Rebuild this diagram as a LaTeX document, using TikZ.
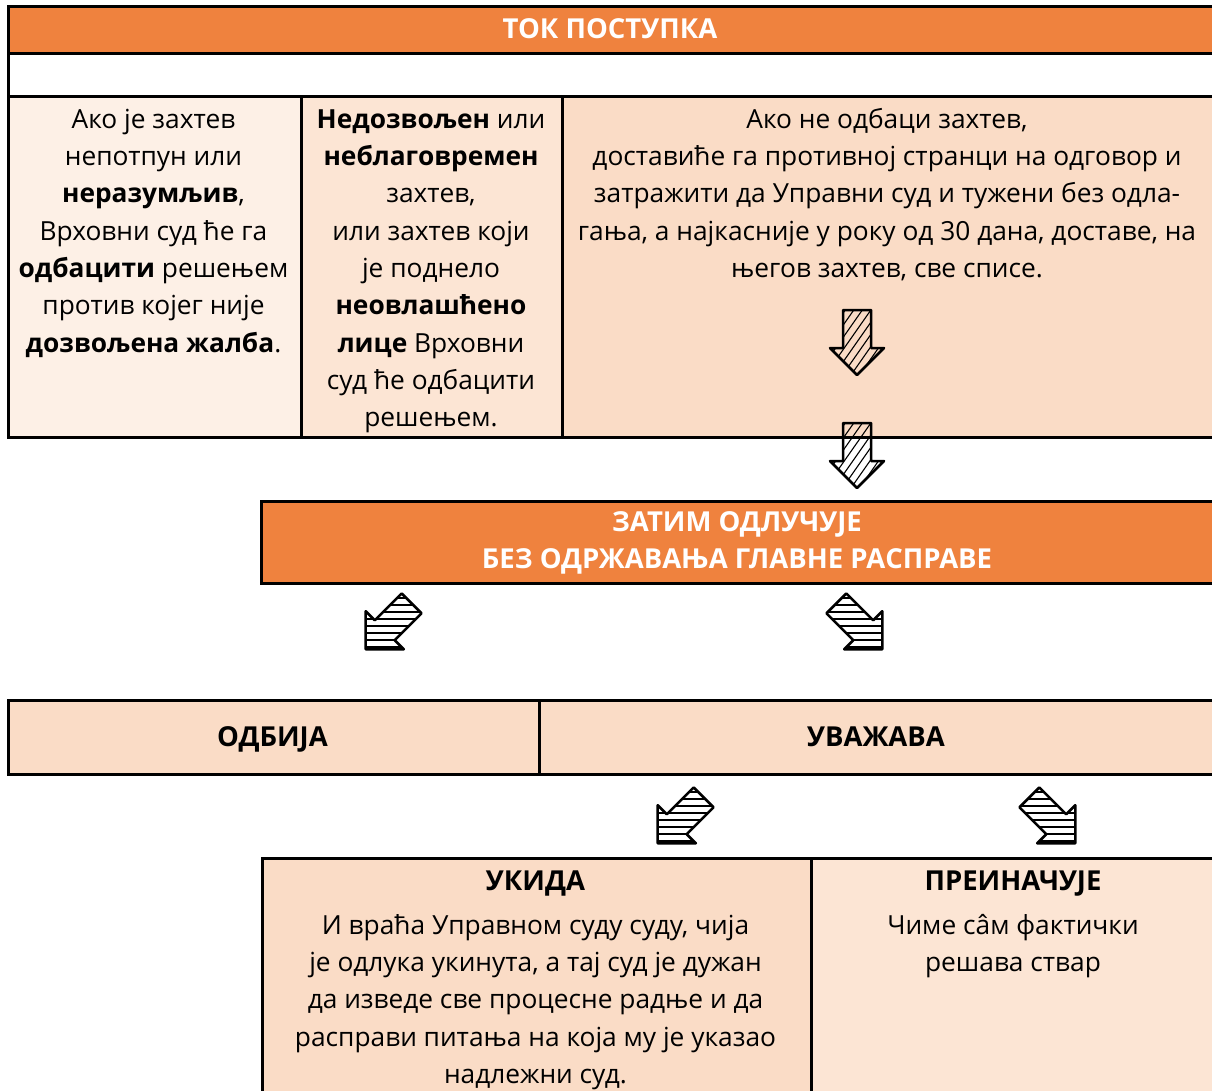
\documentclass[tikz,border=0pt]{standalone}
\usepackage{fontspec}
\setmainfont{Open Sans}
\definecolor{orng}{HTML}{EF823E}
\definecolor{pA}{HTML}{FDF0E6}
\definecolor{pB}{HTML}{FCE5D4}
\definecolor{pC}{HTML}{FADCC6}
\def\arrowshape{(-14,-32) -- (14,-32) -- (14,6) -- (27,6) -- (0,33) -- (-27,6) -- (-14,6) -- cycle}
\newcommand\hatcharrow[5]{%
 \begin{scope}[shift={(#2,#3)},rotate=#4]
  \coordinate (#1) at (0,0);
  \begin{scope}
   \clip \arrowshape;
   \foreach \k in {-63,-56,...,63} \draw[hatchline,rotate=#5-#4] (-60,\k) -- (60,\k);
  \end{scope}
  \draw[arrowline] \arrowshape;
 \end{scope}}
\tikzset{
  cell/.style={draw=black,line width=2.6pt,inner sep=0pt,anchor=north west},
  txt/.style={font=\fontsize{26.3}{37.3}\selectfont,align=center,inner sep=0pt,anchor=north},
  head/.style={font=\fontsize{27.5}{36.8}\selectfont\bfseries,align=center,inner sep=0pt},
  hatchline/.style={line width=1.1pt,black},
  arrowline/.style={line width=2.5pt,black,line join=round}
}
\begin{document}
\begin{tikzpicture}[x=1pt,y=-1pt]
\useasboundingbox (0,0) rectangle (1212,1091);
\clip (0,0) rectangle (1212,1091);
% boxes
\node[cell,fill=orng,minimum width=1215pt,minimum height=47pt] (title) at (7,5) {};
\node[cell,fill=white,minimum width=1215pt,minimum height=43pt] (blank) at (7,52) {};
\node[cell,fill=pA,minimum width=293pt,minimum height=341pt] (c1) at (7,95) {};
\node[cell,fill=pB,minimum width=261pt,minimum height=341pt] (c2) at (300,95) {};
\node[cell,fill=pC,minimum width=654pt,minimum height=341pt] (c3) at (561,95) {};
\node[cell,fill=orng,minimum width=955pt,minimum height=82pt] (dec) at (260,500) {};
\node[cell,fill=pC,minimum width=531pt,minimum height=74pt] (odb) at (7,699) {};
\node[cell,fill=pC,minimum width=677pt,minimum height=74pt] (uva) at (538,699) {};
\node[cell,fill=pC,minimum width=549pt,minimum height=240pt] (uki) at (261,857) {};
\node[cell,fill=pB,minimum width=405pt,minimum height=240pt] (pre) at (810,857) {};
% texts
\node[head,white,anchor=base] (titletxt) at (610,38.5) {ТОК ПОСТУПКА};
\node[txt] (t1) at (153.5,106) {\rule{0pt}{22pt}Ако је захтев\\непотпун или\\\textbf{неразумљив},\\Врховни суд ће га\\\textbf{одбацити} решењем\\против којег није\\\textbf{дозвољена жалба}.};
\node[txt] (t2) at (431,106) {\rule{0pt}{22pt}\textbf{Недозвољен} или\\\textbf{неблаговремен}\\захтев,\\или захтев који\\је поднело\\\textbf{неовлашћено}\\\textbf{лице} Врховни\\суд ће одбацити\\решењем.};
\node[txt] (t3) at (887,106) {\rule{0pt}{22pt}Ако не одбаци захтев,\\доставиће га противној странци на одговор и\\затражити да Управни суд и тужени без одла-\\гања, а најкасније у року од 30 дана, доставе, на\\његов захтев, све списе.};
\node[head,white,anchor=north] (dectxt) at (737,509) {\rule{0pt}{22pt}ЗАТИМ ОДЛУЧУЈЕ\\БЕЗ ОДРЖАВАЊА ГЛАВНЕ РАСПРАВЕ};
\node[head,anchor=base] (odbtxt) at (272.5,746.5) {ОДБИЈА};
\node[head,anchor=base] (uvatxt) at (876,746.5) {УВАЖАВА};
\node[head,anchor=base] (ukitxt) at (535.5,890.5) {УКИДА};
\node[head,anchor=base] (pretxt) at (1013,890.5) {ПРЕИНАЧУЈЕ};
\node[txt] (ukibody) at (535.5,912) {\rule{0pt}{22pt}И враћа Управном суду суду, чија\\је одлука укинута, а тај суд је дужан\\да изведе све процесне радње и да\\расправи питања на која му је указао\\надлежни суд.};
\node[txt] (prebody) at (1013,912) {\rule{0pt}{22pt}Чиме сâм фактички\\решава ствар};
% arrows
\hatcharrow{a1}{857}{342}{0}{55}
\hatcharrow{a2}{857}{455}{0}{55}
\hatcharrow{a3}{389}{626}{-45}{0}
\hatcharrow{a4}{859}{626}{45}{0}
\hatcharrow{a5}{681}{820}{-45}{0}
\hatcharrow{a6}{1052}{820}{45}{0}
\end{tikzpicture}
\end{document}
